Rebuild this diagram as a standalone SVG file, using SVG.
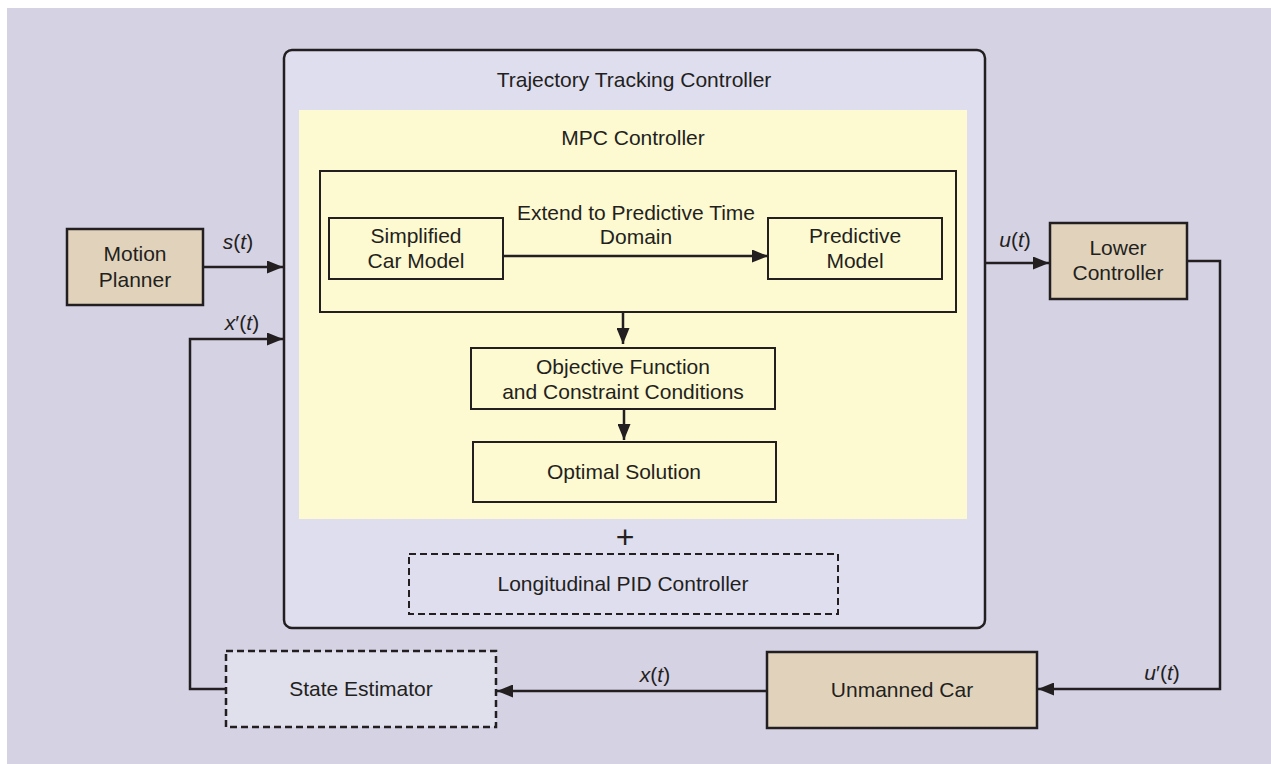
<svg xmlns="http://www.w3.org/2000/svg" width="1271" height="764" viewBox="0 0 1271 764">
<defs>
<marker id="ah" viewBox="0 0 16 13" refX="16" refY="6.5" markerWidth="16" markerHeight="13" markerUnits="userSpaceOnUse" orient="auto">
<path d="M0,0 L16,6.5 L0,13 Z" fill="#231f20"/>
</marker>
<style>
text{font-family:"Liberation Sans",Arial,sans-serif;font-size:21px;fill:#231f20;text-anchor:middle}
.it{font-style:italic}
.box{stroke:#231f20;stroke-width:2.5}
.tan{fill:#e1d3bb}
.yel{fill:#fdf9d0}
.dash{stroke:#231f20;stroke-width:2;stroke-dasharray:7 4}
.conn{fill:none;stroke:#231f20;stroke-width:2.5}
</style>
</defs>
<rect x="0" y="0" width="1271" height="764" fill="#ffffff"/>
<rect x="7" y="8" width="1264" height="756" fill="#d5d2e4"/>

<g id="trajectory-tracking-controller">
<rect x="284" y="50" width="701" height="578" rx="8" ry="8" fill="#dfdeef" class="box"/>
<text x="634" y="87">Trajectory Tracking Controller</text>
</g>

<g id="mpc-controller">
<rect x="299" y="110" width="668" height="409" fill="#fdf9d0"/>
<text x="633" y="145">MPC Controller</text>
</g>

<g id="model-group">
<rect x="320" y="171" width="636" height="141" fill="none" class="box" style="stroke-width:2"/>
<text x="636" y="220">Extend to Predictive Time</text>
<text x="636" y="244">Domain</text>
</g>

<g id="simplified-car-model">
<rect x="329" y="218" width="174" height="61" class="box yel" style="stroke-width:2"/>
<text x="416" y="243">Simplified</text>
<text x="416" y="268">Car Model</text>
</g>

<g id="predictive-model">
<rect x="768" y="218" width="174" height="61" class="box yel" style="stroke-width:2"/>
<text x="855" y="243">Predictive</text>
<text x="855" y="268">Model</text>
</g>

<g id="objective-function">
<rect x="471" y="348" width="304" height="61" class="box yel" style="stroke-width:2"/>
<text x="623" y="374">Objective Function</text>
<text x="623" y="399">and Constraint Conditions</text>
</g>

<g id="optimal-solution">
<rect x="473" y="442" width="303" height="60" class="box yel" style="stroke-width:2"/>
<text x="624" y="479">Optimal Solution</text>
</g>

<g id="plus">
<text x="625" y="548" style="font-size:32px">+</text>
</g>

<g id="longitudinal-pid">
<rect x="409" y="554" width="429" height="60" fill="none" class="dash"/>
<text x="623" y="591">Longitudinal PID Controller</text>
</g>

<g id="motion-planner">
<rect x="67" y="229" width="136" height="76" class="box tan"/>
<text x="135" y="261">Motion</text>
<text x="135" y="287">Planner</text>
</g>

<g id="lower-controller">
<rect x="1050" y="223" width="137" height="76" class="box tan"/>
<text x="1118" y="255">Lower</text>
<text x="1118" y="280">Controller</text>
</g>

<g id="unmanned-car">
<rect x="767" y="652" width="270" height="76" class="box tan"/>
<text x="902" y="697">Unmanned Car</text>
</g>

<g id="state-estimator">
<rect x="226" y="651" width="270" height="76" fill="#e0e0ec" class="dash" style="stroke-width:2.5"/>
<text x="361" y="696">State Estimator</text>
</g>

<g id="connectors">
<line x1="503" y1="256" x2="768" y2="256" class="conn" marker-end="url(#ah)"/>
<line x1="623" y1="313" x2="623" y2="344" class="conn" marker-end="url(#ah)"/>
<line x1="624" y1="410" x2="624" y2="440" class="conn" marker-end="url(#ah)"/>
<line x1="203" y1="267" x2="283" y2="267" class="conn" marker-end="url(#ah)"/>
<polyline points="226,689 190,689 190,339 283,339" class="conn" marker-end="url(#ah)"/>
<line x1="985" y1="263" x2="1049" y2="263" class="conn" marker-end="url(#ah)"/>
<polyline points="1187,261 1220,261 1220,689 1038,689" class="conn" marker-end="url(#ah)"/>
<line x1="767" y1="691" x2="497" y2="691" class="conn" marker-end="url(#ah)"/>
</g>

<g id="labels">
<text x="238" y="249"><tspan class="it">s</tspan>(<tspan class="it">t</tspan>)</text>
<text x="242" y="330"><tspan class="it">x</tspan>′(<tspan class="it">t</tspan>)</text>
<text x="1015" y="247"><tspan class="it">u</tspan>(<tspan class="it">t</tspan>)</text>
<text x="1162" y="680"><tspan class="it">u</tspan>′(<tspan class="it">t</tspan>)</text>
<text x="655" y="682"><tspan class="it">x</tspan>(<tspan class="it">t</tspan>)</text>
</g>
</svg>
